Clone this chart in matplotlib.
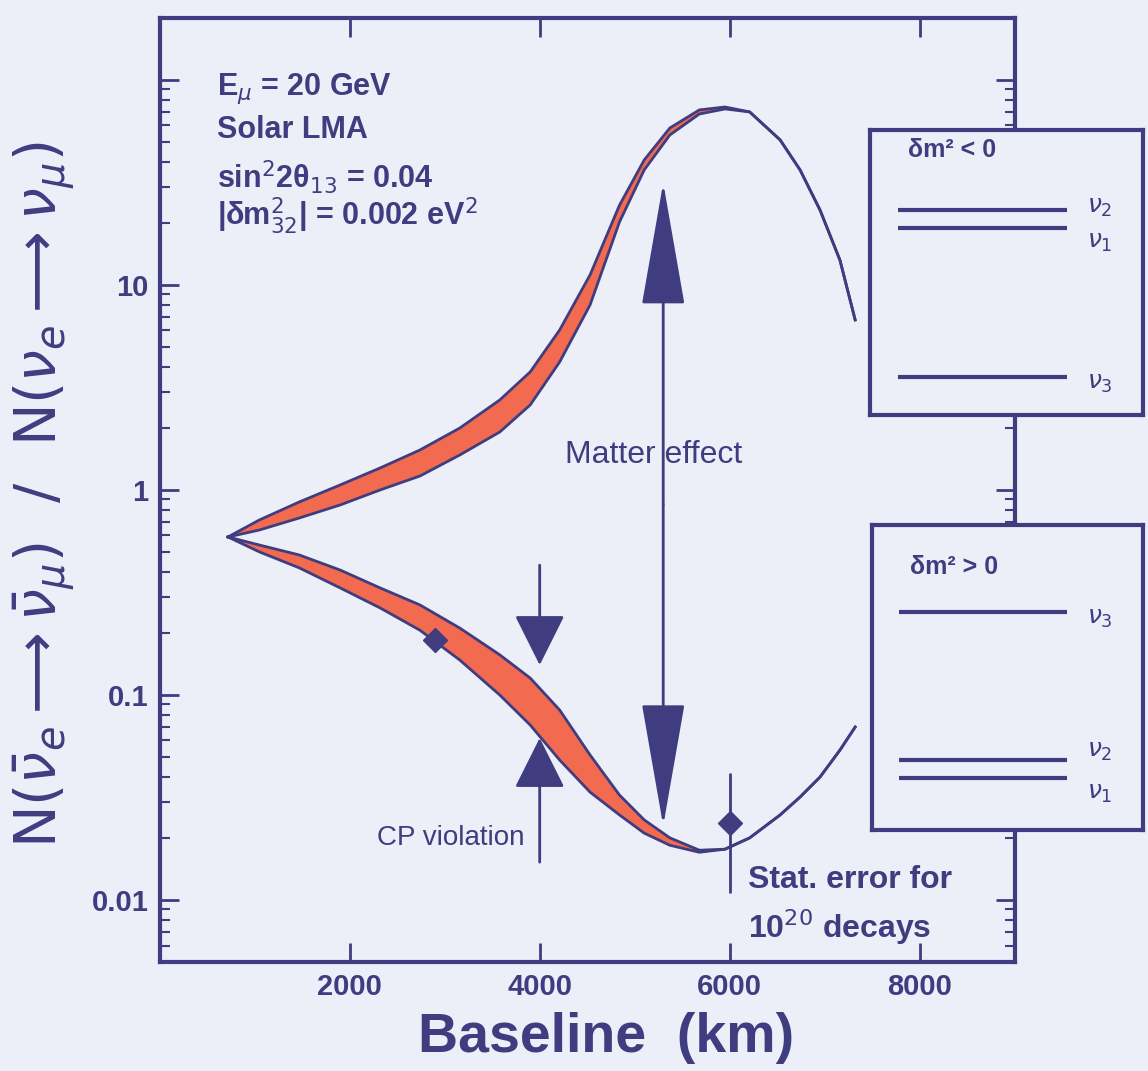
import matplotlib.pyplot as plt
import numpy as np

navy = '#3f3d80'
red = '#f26a4f'
paper = '#eceef8'

plt.rcParams['font.family'] = ['Liberation Sans', 'DejaVu Sans']

# baseline grid (km) shared by both bands
baseline_km = [720, 1050, 1470, 1900, 2320, 2740, 3160, 3580, 3900, 4210, 4530,
               4840, 5100, 5370, 5680, 5950, 6210, 6530, 6740, 6950, 7160, 7320]

# upper band (dm^2 < 0), top and bottom edge
upper_hi = [0.59, 0.714, 0.874, 1.058, 1.28, 1.567, 2.006, 2.748, 3.764, 6.03, 11.19,
            24.5, 40.7, 58.3, 71.4, 73.8, 69.8, 51.0, 36.4, 23.2, 13.2, 6.75]
upper_lo = [0.59, 0.638, 0.730, 0.845, 1.0, 1.170, 1.482, 1.918, 2.598, 4.21, 7.99,
            20.3, 36.4, 53.9, 68.2, 72.2, 69.8, 51.0, 36.4, 23.2, 13.2, 6.75]

# lower band (dm^2 > 0), top and bottom edge
lower_hi = [0.59, 0.539, 0.482, 0.407, 0.333, 0.275, 0.212, 0.157, 0.121, 0.0845, 0.0510,
            0.0325, 0.0246, 0.0201, 0.0175, 0.0177, 0.0201, 0.0260, 0.0318, 0.0398, 0.0539, 0.0698]
lower_lo = [0.59, 0.499, 0.417, 0.333, 0.266, 0.207, 0.148, 0.100, 0.0714, 0.0482, 0.0336,
            0.0260, 0.0212, 0.0185, 0.0171, 0.0177, 0.0201, 0.0260, 0.0318, 0.0398, 0.0539, 0.0698]

# statistical error points
stat_km = [2900, 6000]
stat_val = [0.185, 0.0237]
stat_lo = [0.168, 0.0108]
stat_hi = [0.204, 0.0417]

# arrows
matter_km = 5300
matter_range = [0.023, 31.5]
cp_km = 4000
cp_down = [0.43, 0.14]
cp_up = [0.0153, 0.0617]

x_ticks = [2000, 4000, 6000, 8000]
y_ticks = [0.01, 0.1, 1, 10, 100]
y_ticklabels = ['0.01', '0.1', '1', '10', '']

# mass level schemes for the two insets
inverted_levels = [0.72, 0.656, 0.133]
normal_levels = [0.715, 0.23, 0.17]
inverted_names = [r'$\nu_2$', r'$\nu_1$', r'$\nu_3$']
normal_names = [r'$\nu_3$', r'$\nu_2$', r'$\nu_1$']

fig = plt.figure(figsize=(11.48, 10.71), dpi=100, facecolor=paper)
ax = fig.add_axes([0.139, 0.102, 0.745, 0.881], facecolor=paper)

ax.fill_between(baseline_km, upper_lo, upper_hi, color=red, lw=0)
ax.fill_between(baseline_km, lower_lo, lower_hi, color=red, lw=0)
for edge in [upper_hi, upper_lo, lower_hi, lower_lo]:
    ax.plot(baseline_km, edge, color=navy, lw=2)

yerr = [np.array(stat_val) - np.array(stat_lo), np.array(stat_hi) - np.array(stat_val)]
ax.errorbar(stat_km, stat_val, yerr=yerr, fmt='D', color=navy, ms=12, elinewidth=2, capsize=0)

# matter effect double arrow
mid = np.sqrt(matter_range[0] * matter_range[1])
for tip in matter_range:
    ax.annotate('', xy=(matter_km, tip), xytext=(matter_km, mid),
                arrowprops=dict(arrowstyle='-|>,head_length=4,head_width=0.7', color=navy,
                                lw=2, mutation_scale=20, shrinkA=0, shrinkB=0))
# CP violation arrows
for start, tip in [cp_down, cp_up]:
    ax.annotate('', xy=(cp_km, tip), xytext=(cp_km, start),
                arrowprops=dict(arrowstyle='-|>,head_length=1.6,head_width=0.8', color=navy,
                                lw=2, mutation_scale=20, shrinkA=0, shrinkB=0))

ax.set_yscale('log')
ax.set_xlim(0, 9000)
ax.set_ylim(0.005, 200)
ax.set_xticks(x_ticks)
ax.set_xticklabels([str(t) for t in x_ticks])
ax.set_yticks(y_ticks)
ax.set_yticklabels(y_ticklabels)
ax.tick_params(which='major', direction='in', length=14, width=2, color=navy,
               labelcolor=navy, labelsize=21, top=True, right=True, pad=8)
ax.tick_params(which='minor', direction='in', length=7, width=1.5, color=navy,
               left=True, right=True)
ax.tick_params(axis='x', which='minor', bottom=False, top=False)
for lab in ax.get_xticklabels() + ax.get_yticklabels():
    lab.set_fontweight('bold')
for s in ax.spines.values():
    s.set_color(navy)
    s.set_linewidth(3)

kw = dict(transform=ax.transAxes, color=navy)
ax.text(0.067, 0.925, r'E$_\mu$ = 20 GeV', va='center', fontsize=22, fontweight='bold', **kw)
ax.text(0.067, 0.882, 'Solar LMA', va='center', fontsize=22, fontweight='bold', **kw)
ax.text(0.067, 0.832, r'sin$^2$2θ$_{13}$ = 0.04', va='center', fontsize=22, fontweight='bold', **kw)
ax.text(0.067, 0.791, r'|δm$^2_{32}$| = 0.002 eV$^2$', va='center', fontsize=22, fontweight='bold', **kw)
ax.text(0.578, 0.537, 'Matter effect', ha='center', va='center', fontsize=23, **kw)
ax.text(0.427, 0.131, 'CP violation', ha='right', va='center', fontsize=20, **kw)
ax.text(0.688, 0.087, 'Stat. error for', va='center', fontsize=23, fontweight='bold', **kw)
ax.text(0.688, 0.037, r'10$^{20}$ decays', va='center', fontsize=23, fontweight='bold', **kw)

fig.text(0.038, 0.538,
         r'$\mathrm{N}(\bar{\nu}_e \longrightarrow \bar{\nu}_\mu)\ \ /\ \ \mathrm{N}(\nu_e \longrightarrow \nu_\mu)$',
         rotation=90, ha='center', va='center', fontsize=41, color=navy)
fig.text(0.528, 0.031, 'Baseline  (km)', ha='center', va='center', fontsize=40,
         fontweight='bold', color=navy)

# level scheme insets
boxes = [([0.758, 0.6125, 0.238, 0.266], 'δm² < 0', 0.93, inverted_levels, inverted_names,
          [0.01, -0.05, -0.02]),
         ([0.7596, 0.225, 0.236, 0.285], 'δm² > 0', 0.862, normal_levels, normal_names,
          [-0.02, 0.03, -0.05])]
for rect, title, ty, levels, names, offsets in boxes:
    ins = fig.add_axes(rect, facecolor=paper)
    ins.set_xlim(0, 1)
    ins.set_ylim(0, 1)
    ins.set_xticks([])
    ins.set_yticks([])
    for s in ins.spines.values():
        s.set_color(navy)
        s.set_linewidth(3)
    ins.hlines(levels, 0.1, 0.72, color=navy, lw=3)
    ins.text(0.14, ty, title, color=navy, fontsize=18, fontweight='bold', va='center')
    for lev, name, off in zip(levels, names, offsets):
        ins.text(0.84, lev + off, name, color=navy, fontsize=18, ha='center', va='center')

fig.savefig('out.png', dpi=100, facecolor=paper)
